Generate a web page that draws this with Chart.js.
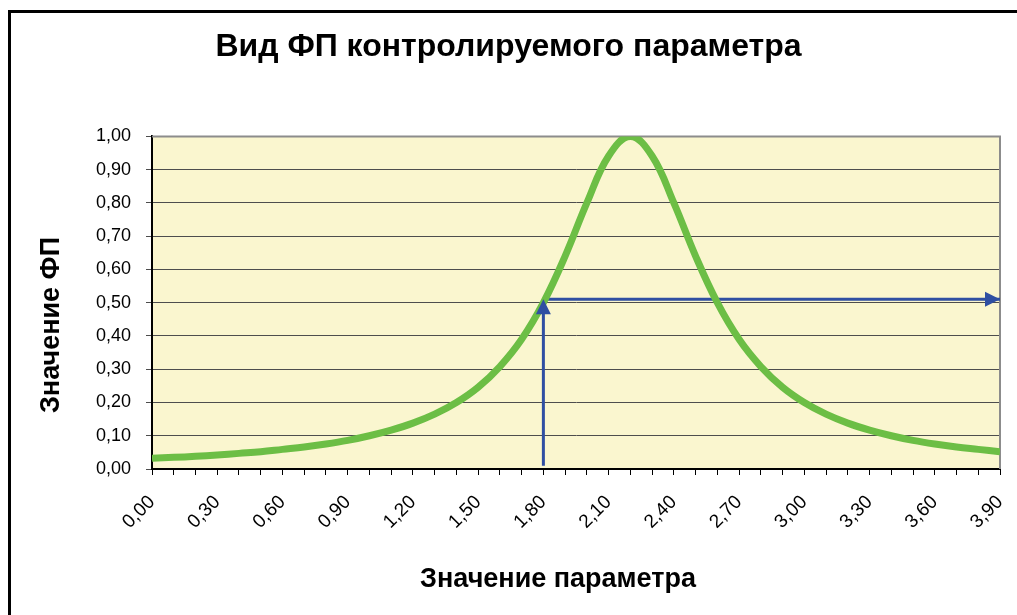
<!DOCTYPE html>
<html lang="ru">
<head>
<meta charset="utf-8">
<title>Вид ФП контролируемого параметра</title>
<script src="https://cdn.jsdelivr.net/npm/chart.js@4/dist/chart.umd.min.js"></script>
<style>
    html, body { margin: 0; padding: 0; background: #fff; overflow: hidden; }
    #wrap { position: relative; width: 1017px; height: 615px; }
    #frame {
        position: absolute; left: 8px; top: 10px; width: 1100px; height: 700px;
        border-left: 3px solid #000; border-top: 3px solid #000;
    }
    #chart { position: absolute; left: 0; top: 0; }
</style>
</head>
<body>
<div id="wrap">
    <div id="frame"></div>
    <canvas id="chart" width="1017" height="615"></canvas>
</div>
<script>
// Chart data
const paramValues = [0.0, 0.1, 0.2, 0.3, 0.4, 0.5, 0.6, 0.7, 0.8, 0.9,
                     1.0, 1.1, 1.2, 1.3, 1.4, 1.5, 1.6, 1.7, 1.8, 1.9,
                     2.0, 2.1, 2.2, 2.3, 2.4, 2.5, 2.6, 2.7, 2.8, 2.9,
                     3.0, 3.1, 3.2, 3.3, 3.4, 3.5, 3.6, 3.7, 3.8, 3.9];
const fpValues = [0.032, 0.035, 0.038, 0.042, 0.047, 0.052, 0.059, 0.066, 0.075, 0.086,
                  0.100, 0.117, 0.138, 0.165, 0.200, 0.246, 0.308, 0.390, 0.500, 0.640,
                  0.800, 0.941, 1.000, 0.941, 0.800, 0.640, 0.500, 0.390, 0.308, 0.246,
                  0.200, 0.165, 0.138, 0.117, 0.100, 0.086, 0.075, 0.066, 0.059, 0.052];

// Arrows: up from the parameter value to the curve, then right along the FP level
const arrowUpX = [1.8, 1.8];
const arrowUpY = [0.01, 0.51];
const arrowRightX = [1.8, 3.9];
const arrowRightY = [0.51, 0.51];

const xTickLabels = ['0,00', '0,30', '0,60', '0,90', '1,20', '1,50', '1,80',
                     '2,10', '2,40', '2,70', '3,00', '3,30', '3,60', '3,90'];
const yTickLabels = ['0,00', '0,10', '0,20', '0,30', '0,40', '0,50',
                     '0,60', '0,70', '0,80', '0,90', '1,00'];

const chartTitle = 'Вид ФП контролируемого параметра';
const xTitle = 'Значение параметра';
const yTitle = 'Значение ФП';

const FONT = "'Liberation Sans', Arial, sans-serif";

const toPoints = (xs, ys) => xs.map((x, i) => ({ x: x, y: ys[i] }));

// Plot background and grey top/right border (Excel style)
const plotFrame = {
    id: 'plotFrame',
    beforeDraw(chart) {
        const { ctx, chartArea: a } = chart;
        ctx.save();
        ctx.fillStyle = '#FAF6CF';
        ctx.fillRect(a.left, a.top, a.right - a.left, a.bottom - a.top);
        ctx.restore();
    },
    beforeDatasetsDraw(chart) {
        const { ctx, chartArea: a } = chart;
        ctx.save();
        ctx.strokeStyle = '#8c8c8c';
        ctx.lineWidth = 2;
        ctx.beginPath();
        ctx.moveTo(a.left, a.top);
        ctx.lineTo(a.right, a.top);
        ctx.lineTo(a.right, a.bottom);
        ctx.stroke();
        ctx.restore();
    }
};

// Arrow heads at the last point of datasets flagged with arrow: true
const arrowHeads = {
    id: 'arrowHeads',
    afterDatasetsDraw(chart) {
        const ctx = chart.ctx;
        chart.data.datasets.forEach((ds, i) => {
            if (!ds.arrow) return;
            const pts = chart.getDatasetMeta(i).data;
            const p1 = pts[pts.length - 2], p2 = pts[pts.length - 1];
            const ang = Math.atan2(p2.y - p1.y, p2.x - p1.x);
            const len = 15, half = 7.5;
            ctx.save();
            ctx.translate(p2.x, p2.y);
            ctx.rotate(ang);
            ctx.fillStyle = ds.borderColor;
            ctx.beginPath();
            ctx.moveTo(0, 0);
            ctx.lineTo(-len, -half);
            ctx.lineTo(-len, half);
            ctx.closePath();
            ctx.fill();
            ctx.restore();
        });
    }
};

// Axis titles placed like in the Excel original
const axisTitles = {
    id: 'axisTitles',
    afterDraw(chart) {
        const ctx = chart.ctx;
        ctx.save();
        ctx.fillStyle = '#000';
        ctx.font = 'bold 27px ' + FONT;
        ctx.textAlign = 'center';
        ctx.textBaseline = 'middle';
        ctx.fillText(xTitle, 558, 580);
        ctx.translate(52, 325);
        ctx.rotate(-Math.PI / 2);
        ctx.fillText(yTitle, 0, 0);
        ctx.restore();
    }
};

new Chart(document.getElementById('chart'), {
    type: 'line',
    data: {
        datasets: [{
            label: 'ФП',
            data: toPoints(paramValues, fpValues),
            borderColor: '#6CBE45',
            borderWidth: 7,
            pointRadius: 0,
            tension: 0.4,
            fill: false
        }, {
            label: 'up',
            data: toPoints(arrowUpX, arrowUpY),
            borderColor: '#2F4FA2',
            borderWidth: 3,
            pointRadius: 0,
            arrow: true
        }, {
            label: 'right',
            data: toPoints(arrowRightX, arrowRightY),
            borderColor: '#2F4FA2',
            borderWidth: 3,
            pointRadius: 0,
            arrow: true
        }]
    },
    options: {
        responsive: false,
        animation: false,
        layout: { padding: { left: 0, right: 0, top: 0, bottom: 0 } },
        plugins: {
            legend: { display: false },
            tooltip: { enabled: false },
            title: {
                display: true,
                text: chartTitle,
                color: '#000',
                font: { family: FONT, size: 32, weight: 'bold' },
                padding: { top: 28, bottom: 70 }
            }
        },
        scales: {
            x: {
                type: 'linear',
                min: 0,
                max: 3.9,
                afterFit: (scale) => {
                    scale.height = 146;
                    scale.paddingLeft = 0;
                    scale.paddingRight = 17;
                },
                border: { color: '#000', width: 2 },
                grid: { drawOnChartArea: false, drawTicks: true, tickLength: 6, color: '#000' },
                ticks: {
                    stepSize: 0.1,
                    autoSkip: false,
                    minRotation: 45,
                    maxRotation: 45,
                    padding: 16,
                    color: '#000',
                    font: { family: FONT, size: 19 },
                    callback: (v, i) => (i % 3 === 0 ? xTickLabels[i / 3] : '')
                }
            },
            y: {
                min: 0,
                max: 1,
                afterFit: (scale) => { scale.width = 152; },
                border: { color: '#000', width: 2 },
                grid: { color: '#4d4d4d', lineWidth: 1, tickLength: 6 },
                ticks: {
                    stepSize: 0.1,
                    padding: 15,
                    color: '#000',
                    font: { family: FONT, size: 18 },
                    callback: (v, i) => yTickLabels[i]
                }
            }
        }
    },
    plugins: [plotFrame, arrowHeads, axisTitles]
});
</script>
</body>
</html>
